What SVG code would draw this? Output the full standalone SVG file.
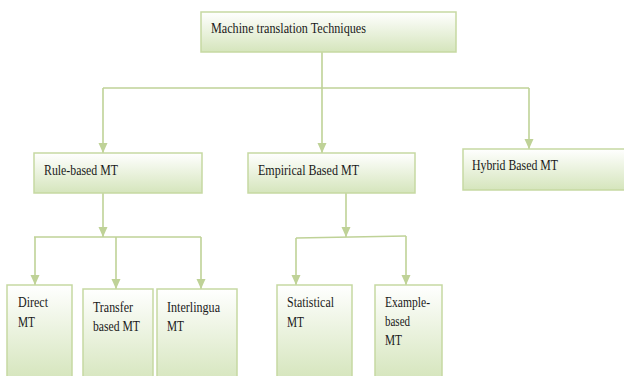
<svg xmlns="http://www.w3.org/2000/svg" width="624" height="376" viewBox="0 0 624 376">
<style>
.box{fill:url(#g);stroke:#c6d9a2;stroke-width:1.5}
.tall{fill:url(#gt);stroke:#c6d9a2;stroke-width:1.5}
text{font-family:'Liberation Serif','DejaVu Serif','Times New Roman',serif;fill:#1a1a1a}
.t{font-size:15px}
.s{font-size:14px}
.c line{stroke:#bfd297;stroke-width:1.6;fill:none}
</style>
<defs>
<linearGradient id="g" x1="0" y1="0" x2="0" y2="1">
<stop offset="0" stop-color="#ffffff"/>
<stop offset="1" stop-color="#d5e5bc"/>
</linearGradient>
<linearGradient id="gt" x1="0" y1="0" x2="0" y2="1">
<stop offset="0" stop-color="#ffffff"/>
<stop offset="0.95" stop-color="#d5e5bc"/>
</linearGradient>
<marker id="a" markerUnits="userSpaceOnUse" markerWidth="10" markerHeight="12" refX="10" refY="5" orient="auto">
<path d="M0,0.5 L10,5 L0,9.5 z" fill="#bfd297"/>
</marker>
</defs>
<g id="connectors" class="c">
<line x1="322" y1="52" x2="322" y2="88"/>
<line x1="103" y1="88" x2="529" y2="88"/>
<line x1="103" y1="88" x2="103" y2="153" marker-end="url(#a)"/>
<line x1="322" y1="88" x2="322" y2="153" marker-end="url(#a)"/>
<line x1="529" y1="88" x2="529" y2="149" marker-end="url(#a)"/>
<line x1="103" y1="193" x2="103" y2="237" marker-end="url(#a)"/>
<line x1="34" y1="237" x2="201" y2="237"/>
<line x1="35" y1="237" x2="35" y2="285" marker-end="url(#a)"/>
<line x1="116" y1="237" x2="116" y2="289" marker-end="url(#a)"/>
<line x1="201" y1="237" x2="201" y2="289" marker-end="url(#a)"/>
<line x1="346" y1="193" x2="346" y2="237" marker-end="url(#a)"/>
<line x1="296" y1="238" x2="406" y2="236"/>
<line x1="296" y1="238" x2="296" y2="285" marker-end="url(#a)"/>
<line x1="406" y1="236" x2="406" y2="285" marker-end="url(#a)"/>
</g>
<g id="n-top">
<rect class="box" x="201" y="12" width="255" height="40"/>
<text class="t" x="211" y="33" textLength="155" lengthAdjust="spacingAndGlyphs">Machine translation  Techniques</text>
</g>
<g id="n-rule">
<rect class="box" x="34" y="153" width="168" height="40"/>
<text class="t" x="44" y="175" textLength="74" lengthAdjust="spacingAndGlyphs">Rule-based MT</text>
</g>
<g id="n-empirical">
<rect class="box" x="248" y="153" width="167" height="40"/>
<text class="t" x="258" y="175" textLength="101" lengthAdjust="spacingAndGlyphs">Empirical  Based MT</text>
</g>
<g id="n-hybrid">
<rect class="box" x="463" y="149" width="170" height="41"/>
<text class="t" x="472" y="170" textLength="86" lengthAdjust="spacingAndGlyphs">Hybrid Based MT</text>
</g>
<g id="n-direct">
<rect class="tall" x="7" y="285" width="65" height="100"/>
<text class="s" x="18" y="307" textLength="30" lengthAdjust="spacingAndGlyphs">Direct</text>
<text class="s" x="18" y="327" textLength="17" lengthAdjust="spacingAndGlyphs">MT</text>
</g>
<g id="n-transfer">
<rect class="tall" x="83" y="289" width="70" height="100"/>
<text class="s" x="93" y="312" textLength="40" lengthAdjust="spacingAndGlyphs">Transfer</text>
<text class="s" x="93" y="331" textLength="47" lengthAdjust="spacingAndGlyphs">based MT</text>
</g>
<g id="n-interlingua">
<rect class="tall" x="157" y="289" width="80" height="100"/>
<text class="s" x="167" y="312" textLength="53" lengthAdjust="spacingAndGlyphs">Interlingua</text>
<text class="s" x="167" y="331" textLength="17" lengthAdjust="spacingAndGlyphs">MT</text>
</g>
<g id="n-statistical">
<rect class="tall" x="277" y="285" width="75" height="100"/>
<text class="s" x="287" y="307" textLength="47" lengthAdjust="spacingAndGlyphs">Statistical</text>
<text class="s" x="287" y="327" textLength="17" lengthAdjust="spacingAndGlyphs">MT</text>
</g>
<g id="n-example">
<rect class="tall" x="375" y="285" width="67" height="100"/>
<text class="s" x="385" y="307" textLength="45" lengthAdjust="spacingAndGlyphs">Example-</text>
<text class="s" x="385" y="326" textLength="25" lengthAdjust="spacingAndGlyphs">based</text>
<text class="s" x="385" y="345" textLength="17" lengthAdjust="spacingAndGlyphs">MT</text>
</g>
</svg>
